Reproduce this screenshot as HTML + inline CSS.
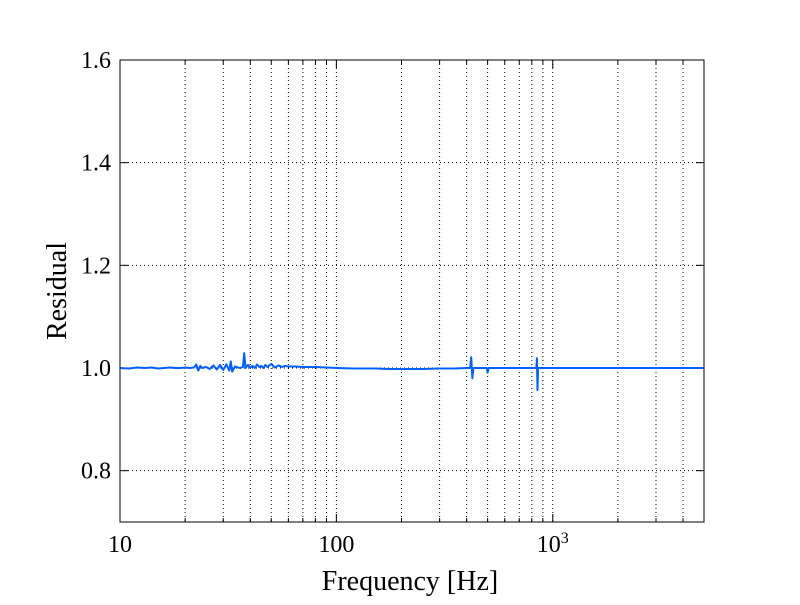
<!DOCTYPE html>
<html><head><meta charset="utf-8"><style>
body{margin:0;background:#fff;}
svg text{font-family:"Liberation Serif",serif;fill:#000;}
</style></head><body>
<svg id="chart" width="800" height="600" xmlns="http://www.w3.org/2000/svg">
<rect width="800" height="600" fill="#fff"/>
<g id="grid"></g>
<g id="ticks"></g>
<path id="line" fill="none" stroke="#0060ff" stroke-width="2" stroke-linejoin="round"/>
<rect x="120" y="60" width="584" height="462" fill="none" stroke="#000" stroke-width="1"/>
<text x="410" y="590" font-size="28" text-anchor="middle">Frequency [Hz]</text>
<text transform="translate(66,291) rotate(-90)" font-size="28" text-anchor="middle">Residual</text>
</svg>
<script>
const freqs=[10,11,12,13,14,15,16,17,18,19,20,21,22,22.5,23,23.5,24,25,26,27,28,29,30,31,32,32.5,33,34,35,36,37,37.5,38,39,40,41,42,43,44,45,46,47,48,50,52,54,56,58,60,65,70,80,90,100,120,150,180,200,250,300,350,400,415,420,425,430,450,480,495,500,505,520,550,600,700,800,830,840,845,850,855,870,900,1000,1500,2000,3000,4000,5000];
const values=[1.000,0.999,1.001,1.000,1.001,0.999,1.000,1.001,1.000,1.000,1.001,1.000,1.001,1.007,0.995,1.004,1.000,1.002,0.998,1.005,0.997,1.006,0.996,1.007,0.995,1.013,0.993,1.003,1.001,1.000,1.002,1.029,1.000,1.006,1.001,1.004,1.000,1.007,1.002,1.004,1.000,1.006,1.002,1.008,1.001,1.005,1.002,1.004,1.003,1.003,1.002,1.002,1.001,1.000,0.999,0.999,0.998,0.998,0.998,0.999,0.999,1.000,1.000,1.021,0.980,1.000,1.000,1.000,1.000,0.991,1.000,1.000,1.000,1.000,1.000,1.000,1.000,1.000,1.019,0.957,1.000,1.000,1.000,1.000,1.000,1.000,1.000,1.000,1.000];
const yTicks=[0.8,1.0,1.2,1.4,1.6];
const xMajor=[10,100,1000];
const xMajorLabels=["10","100","10^3"];
const xMinor=[20,30,40,50,60,70,80,90,200,300,400,500,600,700,800,900,2000,3000,4000];
const X0=120,X1=704,Y0=522,Y1=60,XMIN=10,XMAX=5000,YMIN=0.7,YMAX=1.6;
const ns="http://www.w3.org/2000/svg";
function xs(f){return X0+(Math.log10(f)-Math.log10(XMIN))/(Math.log10(XMAX)-Math.log10(XMIN))*(X1-X0);}
function ys(v){return Y0-(v-YMIN)/(YMAX-YMIN)*(Y0-Y1);}
const grid=document.getElementById('grid'),ticks=document.getElementById('ticks');
function ln(p,x1,y1,x2,y2,dash,name){const l=document.createElementNS(ns,'line');
l.setAttribute('x1',x1);l.setAttribute('y1',y1);l.setAttribute('x2',x2);l.setAttribute('y2',y2);
l.setAttribute('stroke','#000');l.setAttribute('stroke-width','1');if(dash)l.setAttribute('stroke-dasharray','1,3');


p.appendChild(l);}
xMinor.concat(xMajor).forEach(f=>{const x=xs(f);if(x>X0+1&&x<X1-1)ln(grid,x,Y1,x,Y0,true,'x-gridline');
const big=xMajor.includes(f);ln(ticks,x,Y0,x,Y0-(big?8:4),false,'x-tick');ln(ticks,x,Y1,x,Y1+(big?8:4),false,'x-tick');});
yTicks.forEach(v=>{const y=ys(v);if(y>Y1+1)ln(grid,X0,y,X1,y,true,'y-gridline');
ln(ticks,X0,y,X0+8,y,false,'y-tick');ln(ticks,X1,y,X1-8,y,false,'y-tick');
const t=document.createElementNS(ns,'text');t.setAttribute('x',X0-9);t.setAttribute('y',y+8);t.setAttribute('font-size','24');t.setAttribute('text-anchor','end');t.textContent=v.toFixed(1);


ticks.appendChild(t);});
xMajor.forEach((f,i)=>{const t=document.createElementNS(ns,'text');t.setAttribute('x',xs(f));t.setAttribute('y',Y0+30);t.setAttribute('font-size','24');t.setAttribute('text-anchor','middle');
const lab=xMajorLabels[i];
if(lab.includes('^')){const [b,e]=lab.split('^');t.textContent=b;const s=document.createElementNS(ns,'tspan');s.setAttribute('dy','-9');s.setAttribute('font-size','16');s.textContent=e;t.appendChild(s);}
else t.textContent=lab;


ticks.appendChild(t);});
document.getElementById('line').setAttribute('d',freqs.map((f,i)=>(i?'L':'M')+xs(f).toFixed(2)+','+ys(values[i]).toFixed(2)).join(' '));
</script>
</body></html>
